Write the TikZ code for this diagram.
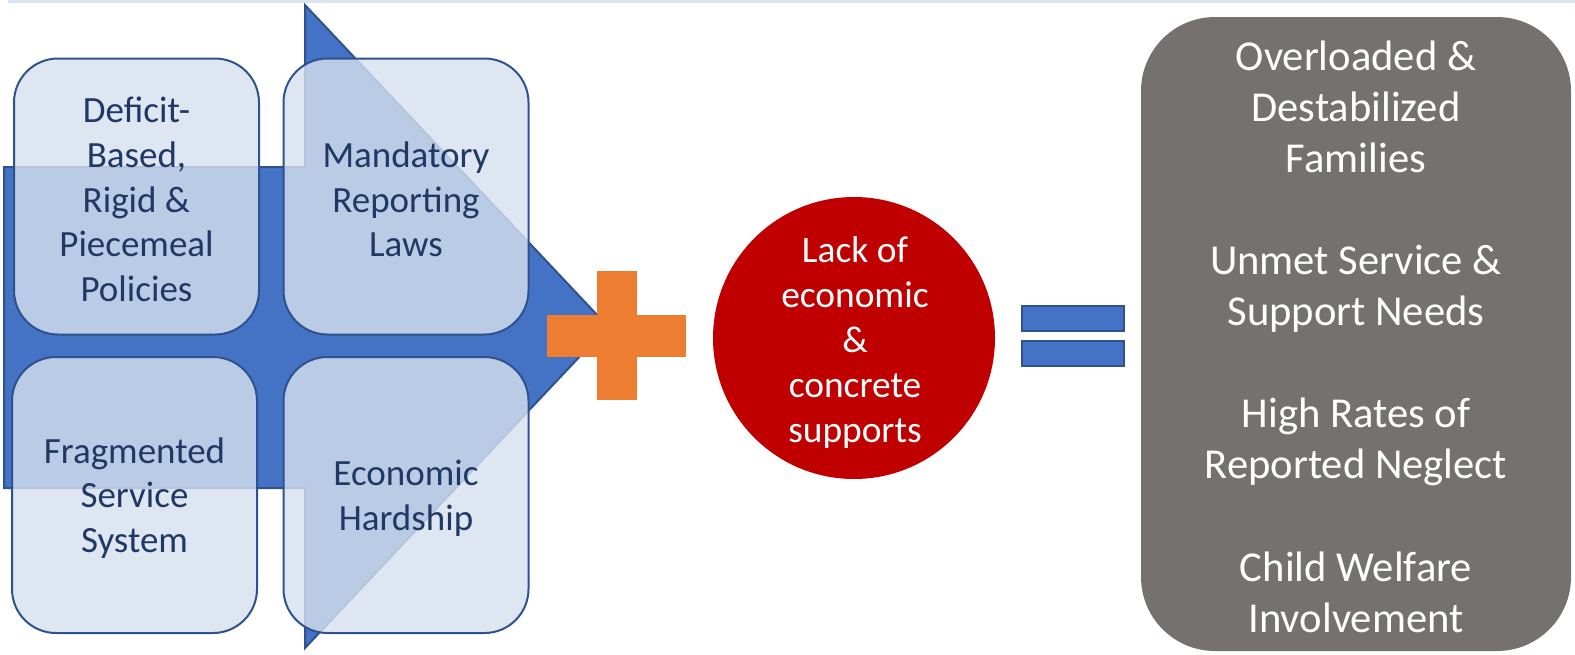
\documentclass[tikz,border=0pt]{standalone}
\usepackage{fontspec}
\setmainfont{Carlito}
\definecolor{arrowblue}{HTML}{4472C4}
\definecolor{edgeblue}{HTML}{2F528F}
\definecolor{boxfill}{RGB}{214,224,239}
\definecolor{navytext}{HTML}{1F3864}
\definecolor{plusorange}{HTML}{ED7D31}
\definecolor{circred}{HTML}{C00000}
\definecolor{graybox}{HTML}{767171}
\definecolor{topline}{HTML}{DAE3F3}
\begin{document}
\begin{tikzpicture}[x=0.5pt,y=-0.5pt,
  factorbox/.style={rectangle, rounded corners=22pt, draw=edgeblue, line width=1pt,
    fill=boxfill, fill opacity=0.81, minimum width=122.5pt, minimum height=138pt},
  factortext/.style={text=navytext, align=center, inner sep=0pt,
    font=\fontsize{18.5pt}{22.3pt}\selectfont},
  eqbar/.style={draw=edgeblue, line width=1.3pt, fill=arrowblue}]
\useasboundingbox (0,0) rectangle (1575,654);
% top line
\fill[topline] (8,0) rectangle (1575,2.5);
% big arrow
\filldraw[fill=arrowblue, draw=edgeblue, line width=1pt]
  (4,167) -- (305,167) -- (305,5) -- (608,326.5) -- (305,648) -- (305,488) -- (4,488) -- cycle;
% factor boxes
\node[factorbox] (b1) at (136.5,196.5) {};
\node[factorbox] (b2) at (406,196.5) {};
\node[factorbox] (b3) at (134.5,495) {};
\node[factorbox] (b4) at (406,495) {};
\node[factortext, yshift=-1.5pt] (t1) at (b1.center) {Deficit-\\Based,\\Rigid \&\\Piecemeal\\Policies};
\node[factortext, yshift=-1.5pt] (t2) at (b2.center) {Mandatory\\Reporting\\Laws};
\node[factortext, yshift=-1.5pt] (t3) at (b3.center) {Fragmented\\Service\\System};
\node[factortext, yshift=-1.5pt] (t4) at (b4.center) {Economic\\Hardship};
% plus
\fill[plusorange] (597,271) rectangle (637,400);
\fill[plusorange] (547,315) rectangle (686,357);
% circle
\node[circle, fill=circred, minimum size=141pt, inner sep=0pt] (circ) at (854,338) {};
\node[text=white, align=center, inner sep=0pt,
  font=\fontsize{18.7pt}{22.5pt}\selectfont] (circtext) at (855,343)
  {Lack of\\economic\\\&\\concrete\\supports};
% equals
\draw[eqbar] (1022,306) rectangle (1124,331);
\draw[eqbar] (1022,341) rectangle (1124,366);
% outcome box
\node[rectangle, rounded corners=37pt, fill=graybox, minimum width=215pt, minimum height=317pt] (out) at (1356,334) {};
\node[text=white, align=center, inner sep=0pt, font=\fontsize{21.3pt}{25.55pt}\selectfont] (outtext) at (1356,336.5)
  {Overloaded \&\\Destabilized\\Families\\[25.55pt]Unmet Service \&\\Support Needs\\[25.55pt]High Rates of\\Reported Neglect\\[25.55pt]Child Welfare\\Involvement};
\end{tikzpicture}
\end{document}
